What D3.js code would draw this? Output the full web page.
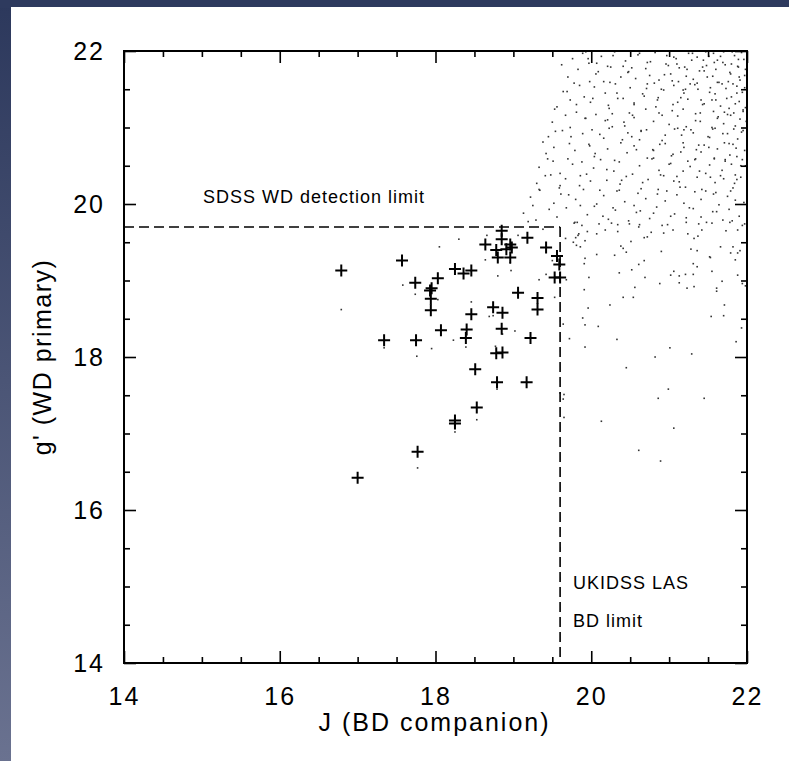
<!DOCTYPE html>
<html>
<head>
<meta charset="utf-8">
<script src="https://cdn.jsdelivr.net/npm/d3@7"></script>
<style>
  html, body { margin: 0; padding: 0; background: #2e3a5e; }
  svg { display: block; }
  text { font-family: "Liberation Sans", "DejaVu Sans", sans-serif; fill: #000; }
</style>
</head>
<body>
<svg id="chart" width="789" height="761"></svg>
<script>
// J magnitude of the brown-dwarf companion vs g' magnitude of the white-dwarf primary

// Simulated field population (J, g')
const fieldStars = [
  [19.76,21.9],[19.89,21.97],[19.97,21.84],[20.13,21.93],[20.21,21.8],[20.3,21.99],[20.44,21.87],[20.52,21.78],[20.6,21.95],[20.76,21.86],[20.82,21.98],[20.99,21.81],[21.06,21.92],[21.1,21.83],[21.25,21.97],[21.29,21.88],[21.43,21.79],[21.51,21.93],[21.58,21.85],[21.7,21.99],[21.72,21.82],[21.84,21.94],[21.88,21.8],[21.96,21.89],
  [19.7,21.66],[19.83,21.76],[19.98,21.6],[20.06,21.7],[20.25,21.79],[20.31,21.57],[20.48,21.73],[20.57,21.64],[20.7,21.77],[20.81,21.58],[20.94,21.69],[21.04,21.61],[21.13,21.78],[21.22,21.67],[21.33,21.56],[21.39,21.74],[21.49,21.66],[21.6,21.76],[21.64,21.59],[21.78,21.72],[21.82,21.57],[21.89,21.79],[21.97,21.68],
  [19.64,21.47],[19.78,21.58],[19.91,21.4],[20.04,21.53],[20.18,21.45],[20.24,21.59],[20.41,21.38],[20.5,21.52],[20.66,21.44],[20.72,21.57],[20.85,21.36],[20.93,21.49],[21.06,21.55],[21.15,21.39],[21.21,21.5],[21.36,21.58],[21.41,21.36],[21.53,21.52],[21.59,21.44],[21.68,21.57],[21.8,21.4],[21.87,21.54],[21.94,21.46],
  [19.56,21.27],[19.73,21.36],[19.81,21.2],[19.99,21.33],[20.06,21.17],[20.22,21.29],[20.34,21.38],[20.49,21.19],[20.55,21.32],[20.7,21.24],[20.86,21.39],[20.91,21.16],[21.05,21.3],[21.18,21.24],[21.24,21.37],[21.34,21.18],[21.45,21.31],[21.57,21.21],[21.6,21.36],[21.77,21.25],[21.79,21.16],[21.9,21.34],[21.95,21.23],
  [19.5,21.07],[19.67,21.16],[19.73,21.0],[19.92,21.12],[20.01,20.97],[20.18,21.09],[20.27,21.18],[20.43,21.02],[20.55,21.13],[20.64,20.96],[20.8,21.08],[20.87,21.19],[21.0,21.04],[21.11,21.15],[21.19,20.97],[21.34,21.09],[21.4,21.19],[21.55,21.0],[21.62,21.12],[21.7,21.05],[21.75,21.17],[21.83,20.98],[21.91,21.11],
  [19.45,20.88],[19.63,20.96],[19.72,20.79],[19.89,20.92],[19.98,20.76],[20.16,20.86],[20.23,20.99],[20.38,20.8],[20.47,20.93],[20.62,20.84],[20.71,20.97],[20.88,20.78],[20.95,20.9],[21.11,20.99],[21.18,20.8],[21.31,20.93],[21.38,20.77],[21.52,20.87],[21.56,20.98],[21.71,20.8],[21.75,20.92],[21.88,20.85],[21.95,20.96],
  [19.42,20.66],[19.52,20.74],[19.7,20.59],[19.79,20.7],[19.97,20.78],[20.04,20.62],[20.21,20.72],[20.3,20.57],[20.46,20.67],[20.55,20.76],[20.72,20.6],[20.8,20.7],[20.95,20.79],[21.03,20.63],[21.19,20.74],[21.24,20.56],[21.41,20.68],[21.45,20.77],[21.58,20.6],[21.62,20.72],[21.78,20.64],[21.82,20.78],[21.94,20.58],
  [19.33,20.48],[19.51,20.56],[19.6,20.4],[19.76,20.52],[19.86,20.37],[20.03,20.47],[20.12,20.58],[20.29,20.43],[20.36,20.55],[20.53,20.39],[20.62,20.5],[20.78,20.59],[20.87,20.44],[21.02,20.53],[21.1,20.36],[21.27,20.49],[21.34,20.59],[21.47,20.4],[21.52,20.51],[21.68,20.44],[21.72,20.56],[21.85,20.38],[21.92,20.5],
  [19.3,20.27],[19.41,20.37],[19.59,20.21],[19.67,20.33],[19.85,20.24],[19.94,20.39],[20.11,20.18],[20.2,20.31],[20.37,20.26],[20.45,20.36],[20.64,20.2],[20.73,20.32],[20.89,20.38],[20.97,20.17],[21.13,20.29],[21.21,20.22],[21.36,20.35],[21.42,20.19],[21.59,20.28],[21.66,20.37],[21.82,20.21],[21.87,20.32],
  [19.22,20.09],[19.34,20.18],[19.52,20.01],[19.61,20.13],[19.8,20.06],[19.9,20.19],[20.07,20.0],[20.16,20.11],[20.33,20.17],[20.43,20.03],[20.6,20.14],[20.7,20.07],[20.86,20.19],[20.95,20.04],[21.1,20.12],[21.19,20.01],[21.33,20.16],[21.41,20.06],[21.57,20.13],[21.64,19.99],[21.79,20.17],[21.85,20.05],
  [19.13,19.88],[19.29,19.79],[19.46,19.93],[19.56,19.83],[19.68,19.95],[19.78,19.75],[19.95,19.86],[20.04,19.97],[20.22,19.8],[20.31,19.92],[20.48,19.78],[20.58,19.89],[20.75,19.81],[20.84,19.96],[20.98,19.73],[21.07,19.87],[21.22,19.82],[21.31,19.94],[21.48,19.76],[21.56,19.9],[21.69,19.79],[21.77,19.93],[21.9,19.84],[21.97,19.74],
  [21.02,21.7],[21.18,21.49],[21.36,21.92],[21.55,21.36],[21.71,21.2],[21.87,21.45],[21.93,21.98],[21.62,21.88],[21.45,21.74],[21.27,21.57],[21.11,21.33],[21.76,21.6],[21.98,21.26],[21.85,21.02],[21.69,20.92],[21.51,20.74],[21.33,20.58],[21.16,20.9],[21.97,20.7],[21.8,20.52],[21.4,21.08],[20.9,21.5],[20.72,21.85],[20.55,21.3],[20.38,21.66],[20.21,21.1],[20.8,20.6],[21.06,20.3],[21.6,20.15],[21.92,20.35],
  [19.85,21.55],[19.93,21.12],[20.02,21.38],[20.11,20.91],[20.16,21.6],[20.27,21.01],[20.33,21.45],[20.4,20.84],[20.47,21.72],[20.53,21.16],[20.64,20.95],[20.68,21.41],[20.75,21.68],[20.79,20.71],[20.83,21.27],[20.96,21.83],[21.0,20.52],[21.04,21.22],[21.09,21.9],[21.15,20.68],[21.19,21.45],[21.23,21.76],[21.28,20.97],[21.31,21.63],[21.39,20.43],[21.43,21.3],[21.47,21.99],[21.5,20.88],[21.56,21.67],[21.58,20.59],[21.63,21.14],[21.66,21.93],[21.7,20.33],[21.73,21.51],[21.77,20.79],[21.8,21.83],[21.83,21.19],[21.87,20.62],[21.9,21.66],[21.93,20.94],[21.97,21.52],[21.99,21.08],
  [19.62,21.82],[19.69,21.47],[19.74,20.88],[19.81,21.3],[19.88,20.55],[19.96,21.9],[20.05,20.66],[20.09,21.73],[20.2,20.45],[20.23,21.25],[20.36,20.18],[20.42,21.07],[20.55,19.98],[20.58,20.71],[20.66,20.28],[20.71,21.51],[20.85,20.13],[20.91,20.83],[21.02,19.84],[21.07,20.98],[21.14,20.22],[21.26,19.95],[21.35,20.71],[21.41,19.83],[21.53,20.35],[21.61,19.9],[21.72,20.58],[21.78,19.76],[21.84,20.27],[21.96,20.02],
  [21.48,21.81],[21.57,21.97],[21.62,21.59],[21.69,21.85],[21.74,21.38],[21.79,21.7],[21.81,21.99],[21.85,21.31],[21.89,21.89],[21.91,21.62],[21.95,21.21],[21.98,21.76],[21.66,21.28],[21.52,21.46],[21.44,21.88],[21.3,21.97],[21.37,21.5],[21.2,21.79],[21.12,21.6],[20.97,21.94],[20.87,21.62],[20.62,21.97],[20.41,21.8],[20.28,21.94],[20.07,21.84],[19.93,21.99],
  [19.48,20.38],[19.54,20.95],[19.44,20.59],[19.38,20.81],[19.33,20.19],[19.25,19.98],[19.6,20.24],[19.71,20.12],[19.53,21.24],[19.86,19.98],[19.99,20.3],[20.15,19.84],[20.28,19.95],[20.39,20.31],[20.52,20.88],[20.63,19.91],[20.8,19.88],[20.93,20.37],[21.05,20.65],[21.18,20.43],[21.22,21.01],[21.47,20.17],[21.59,20.99],[21.75,20.1],[21.86,20.73],[21.94,19.72],[21.98,20.5],
  [19.79,19.76],[19.82,19.76],[19.88,19.72],[19.95,19.64],[20.10,19.74],[20.18,19.66],[20.26,19.75],[20.34,19.73],[20.34,19.64],[20.49,19.74],[20.62,19.73],[20.61,19.70],[20.77,19.63],[20.91,19.72],[20.93,19.62],[21.05,19.66],[21.22,19.76],[21.24,19.61],[21.38,19.74],[21.42,19.66],[21.55,19.75],[21.73,19.65],[21.81,19.78],[21.88,19.66],
  [19.67,19.55],[19.77,19.50],[19.80,19.56],[19.84,19.61],[19.92,19.52],[20.07,19.61],[20.68,19.56],[20.72,19.57],[20.51,19.51],[21.32,19.55],[21.37,19.58],
  [19.86,19.44],[20.07,19.34],[20.30,19.33],[20.38,19.45],[20.41,19.42],[20.45,19.37],[20.68,19.26],[20.61,19.21],[20.52,19.14],[20.36,19.10],[19.97,19.04],[19.91,19.22],[19.92,19.29],[19.68,19.01],[20.90,19.38],[21.06,19.12],[21.02,19.07],[21.13,19.06],[21.21,19.08],[21.31,19.08],[21.31,19.22],[21.36,19.18],[21.28,19.41],[21.36,19.39],[21.66,19.44],[21.82,19.44],[21.91,19.39],[21.88,19.36],[21.79,19.36],[21.85,19.27],[21.52,19.31],[21.53,19.30],[21.55,19.12],[21.68,18.99],[21.88,19.07],[21.94,18.96],[21.98,18.93],
  [20.69,19.04],[20.56,18.91],[20.88,18.96],[21.13,18.97],[21.23,18.90],[21.32,18.92],[21.61,18.90],[21.61,18.86],[19.91,18.88],[20.41,18.78],[20.54,18.78],[20.24,18.68],[19.96,18.64],[19.89,18.51],[19.92,18.42],[20.09,18.40],[19.64,18.43],[21.54,18.53],[21.70,18.54],[21.71,18.68],[21.93,18.38],[21.86,18.20],
  [19.72,18.24],[19.92,18.13],[20.33,18.23],[21.01,18.12],[20.82,18.0],[21.29,18.04],[20.45,17.86],[19.65,17.51],[20.99,17.58],[20.86,17.46],[21.45,17.46],[19.65,17.21],[20.13,17.16],[21.06,17.07],[20.61,16.78],[20.89,16.64],
  [19.19,19.77],[19.38,19.67],[19.06,19.59],[18.66,19.59],[18.30,19.54],[18.05,19.44],[19.83,19.59],[19.81,19.46],
  [18.64,19.27],[18.80,19.06],[18.97,19.13],[18.96,19.23],[19.33,19.01],[19.50,19.26],[19.42,19.08],[17.58,18.94],[17.74,18.82],[18.03,18.75],[16.79,18.62],[18.46,18.72],[18.69,18.53],[18.74,18.54],[19.02,18.34],[18.86,18.30],[18.23,18.22],[18.39,18.13],[17.95,18.11],[17.34,18.12],[17.76,18.01],[18.77,18.14],[19.53,18.78],
  [19.60,17.53],[19.64,17.45],[18.79,17.58],[18.53,17.18],[18.25,17.02],[17.77,16.55]
];

// Known WD + BD pairs (J, g')
const pairJ = [16.79,17.57,17.74,18.03,17.95,17.93,17.94,17.94,18.25,18.36,18.46,18.07,17.34,17.75,18.46,18.40,18.39,18.51,18.74,18.86,18.85,18.78,18.86,18.79,19.17,19.06,19.31,19.31,19.22,19.18,19.42,19.56,19.59,19.53,19.60,18.85,18.85,18.64,18.78,18.80,18.96,18.98,18.91,18.96,17.00,17.77,18.25,18.25,18.53];
const pairG = [19.13,19.26,18.97,19.03,18.90,18.87,18.76,18.61,19.15,19.09,19.13,18.35,18.22,18.22,18.56,18.36,18.25,17.84,18.65,18.58,18.37,18.05,18.06,17.67,17.67,18.84,18.77,18.62,18.25,19.56,19.43,19.32,19.21,19.04,19.04,19.65,19.54,19.47,19.40,19.30,19.47,19.43,19.41,19.30,16.42,16.76,17.17,17.13,17.34];

// Survey limits
const sdssLimitG = 19.7;
const ukidssLimitJ = 19.6;

const majorTicks = [14, 16, 18, 20, 22];
const minorTicks = [14.5,15,15.5,16.5,17,17.5,18.5,19,19.5,20.5,21,21.5];

(function drawChart() {
  const svg = d3.select("#chart");
  const W = 789, H = 761;

  // Framed backdrop
  const defs = svg.append("defs");
  const grad = defs.append("linearGradient").attr("id", "edge").attr("x1", 0).attr("y1", 0).attr("x2", 0).attr("y2", 1);
  grad.append("stop").attr("offset", "0%").attr("stop-color", "#2c385c");
  grad.append("stop").attr("offset", "100%").attr("stop-color", "#6a7290");
  svg.append("rect").attr("width", W).attr("height", H).attr("fill", "url(#edge)");
  svg.append("rect").attr("x", 0).attr("y", 0).attr("width", W).attr("height", 8).attr("fill", "#2e3a5e");
  svg.append("rect").attr("x", 11).attr("y", 7).attr("width", W - 11).attr("height", H - 7).attr("fill", "#fff");

  const pL = 124, pR = 747, pT = 51, pB = 663;
  const x = d3.scaleLinear().domain([14, 22]).range([pL, pR]);
  const y = d3.scaleLinear().domain([14, 22]).range([pB, pT]);

  defs.append("clipPath").attr("id", "plotclip").append("rect")
    .attr("x", pL).attr("y", pT).attr("width", pR - pL).attr("height", pB - pT);

  // Field population
  svg.append("g").attr("clip-path", "url(#plotclip)")
    .selectAll("rect").data(fieldStars).join("rect")
    .attr("x", d => x(d[0]) - 0.8).attr("y", d => y(d[1]) - 0.8)
    .attr("width", 1.6).attr("height", 1.6).attr("fill", "#333");

  // Detection limits
  const dash = "10,5";
  svg.append("line")
    .attr("x1", x(14)).attr("x2", x(ukidssLimitJ)).attr("y1", y(sdssLimitG)).attr("y2", y(sdssLimitG))
    .attr("stroke", "#000").attr("stroke-width", 1.6).attr("stroke-dasharray", dash);
  svg.append("line")
    .attr("x1", x(ukidssLimitJ)).attr("x2", x(ukidssLimitJ)).attr("y1", y(sdssLimitG)).attr("y2", y(14))
    .attr("stroke", "#000").attr("stroke-width", 1.6).attr("stroke-dasharray", dash);

  // Pair markers
  const arm = 6;
  const pairs = pairJ.map((j, i) => [j, pairG[i]]);
  svg.append("g").attr("stroke", "#000").attr("stroke-width", 2)
    .selectAll("path").data(pairs).join("path")
    .attr("d", d => {
      const cx = x(d[0]), cy = y(d[1]);
      return `M${cx - arm},${cy}H${cx + arm}M${cx},${cy - arm}V${cy + arm}`;
    });

  // Axes with inward ticks on all four sides
  function drawAxis(axisGen, tx, ty, withLabels) {
    const g = svg.append("g").attr("transform", `translate(${tx},${ty})`);
    g.call(axisGen);
    g.selectAll(".domain").remove();
    g.selectAll(".tick line").attr("stroke", "#000").attr("stroke-width", 1.6);
    if (!withLabels) g.selectAll(".tick text").remove();
    return g;
  }
  const labelFmt = d3.format("d");
  const xb = drawAxis(d3.axisBottom(x).tickValues(majorTicks).tickSize(-12).tickPadding(24).tickFormat(labelFmt), 0, pB, true);
  const yl = drawAxis(d3.axisLeft(y).tickValues(majorTicks).tickSize(-12).tickPadding(19).tickFormat(labelFmt), pL, 0, true);
  drawAxis(d3.axisTop(x).tickValues(majorTicks).tickSize(-12), 0, pT, false);
  drawAxis(d3.axisRight(y).tickValues(majorTicks).tickSize(-12), pR, 0, false);
  drawAxis(d3.axisBottom(x).tickValues(minorTicks).tickSize(-6), 0, pB, false);
  drawAxis(d3.axisLeft(y).tickValues(minorTicks).tickSize(-6), pL, 0, false);
  drawAxis(d3.axisTop(x).tickValues(minorTicks).tickSize(-6), 0, pT, false);
  drawAxis(d3.axisRight(y).tickValues(minorTicks).tickSize(-6), pR, 0, false);

  [xb, yl].forEach(g => g.selectAll(".tick text")
    .attr("font-family", "Liberation Sans, DejaVu Sans, sans-serif")
    .attr("font-size", 25).attr("fill", "#000").style("letter-spacing", "2px"));

  // Frame
  svg.append("rect").attr("x", pL).attr("y", pT).attr("width", pR - pL).attr("height", pB - pT)
    .attr("fill", "none").attr("stroke", "#000").attr("stroke-width", 2);

  // Axis titles
  svg.append("text").attr("x", (pL + pR) / 2 - 1).attr("y", 731)
    .attr("text-anchor", "middle").attr("font-size", 25).style("letter-spacing", "2px")
    .text("J (BD companion)");
  svg.append("text").attr("transform", `translate(51,${(pT + pB) / 2}) rotate(-90)`)
    .attr("text-anchor", "middle").attr("font-size", 25).style("letter-spacing", "1.5px")
    .text("g' (WD primary)");

  // Limit annotations
  svg.append("text").attr("x", 203).attr("y", 203).attr("font-size", 18).style("letter-spacing", "1px")
    .text("SDSS WD detection limit");
  svg.append("text").attr("x", 573).attr("y", 589).attr("font-size", 18).style("letter-spacing", "1px")
    .text("UKIDSS LAS");
  svg.append("text").attr("x", 573).attr("y", 627).attr("font-size", 18).style("letter-spacing", "1px")
    .text("BD limit");
})();
</script>
</body>
</html>
